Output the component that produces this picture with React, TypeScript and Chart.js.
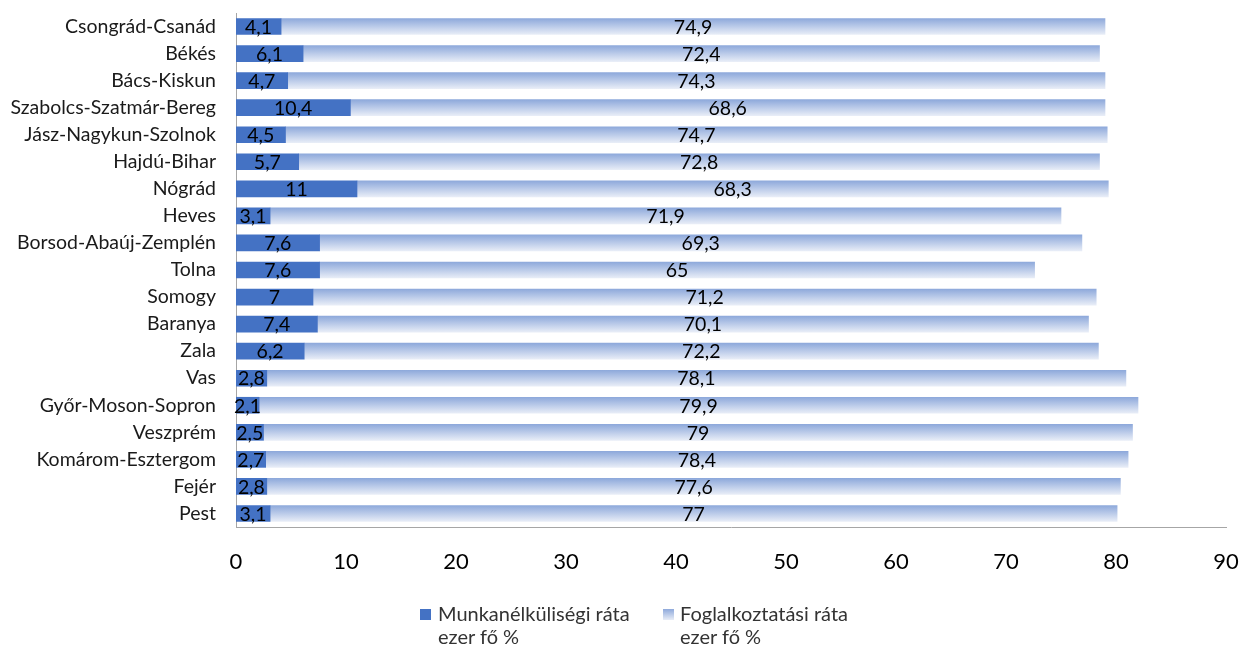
import React, { useEffect, useRef } from "react";
import { Chart, registerables } from "chart.js";

Chart.register(...registerables);

const categories = [
  "Csongrád-Csanád", "Békés", "Bács-Kiskun", "Szabolcs-Szatmár-Bereg", "Jász-Nagykun-Szolnok",
  "Hajdú-Bihar", "Nógrád", "Heves", "Borsod-Abaúj-Zemplén", "Tolna", "Somogy", "Baranya",
  "Zala", "Vas", "Győr-Moson-Sopron", "Veszprém", "Komárom-Esztergom", "Fejér", "Pest",
];
const unemployment = [4.1, 6.1, 4.7, 10.4, 4.5, 5.7, 11, 3.1, 7.6, 7.6, 7, 7.4, 6.2, 2.8, 2.1, 2.5, 2.7, 2.8, 3.1];
const employment = [74.9, 72.4, 74.3, 68.6, 74.7, 72.8, 68.3, 71.9, 69.3, 65, 71.2, 70.1, 72.2, 78.1, 79.9, 79, 78.4, 77.6, 77];
const seriesNames = ["Munkanélküliségi ráta\nezer fő %", "Foglalkoztatási ráta\nezer fő %"];
const xTicks = [0, 10, 20, 30, 40, 50, 60, 70, 80, 90];

const FONT = "Lato, 'Open Sans', sans-serif";
const DARK = "#4472C4";
const GRAD_TOP = "#8EA9DB";
const GRAD_BOTTOM = "#E8EDF7";
const BAR_H = 16;

const fmt = (v: number) => String(v).replace(".", ",");

const labelPlugin = {
  id: "segLabels",
  afterDatasetsDraw(chart: any) {
    const { ctx } = chart;
    ctx.save();
    ctx.font = `19.5px ${FONT}`;
    ctx.fillStyle = "#000";
    ctx.textAlign = "center";
    ctx.textBaseline = "middle";
    chart.data.datasets.forEach((ds: any, di: number) => {
      const meta = chart.getDatasetMeta(di);
      meta.data.forEach((bar: any, i: number) => {
        const cx = (bar.x + bar.base) / 2;
        ctx.fillText(fmt(ds.data[i]), cx, bar.y + 1);
      });
    });
    ctx.restore();
  },
};

function gradientFor(ctxArg: any) {
  const chart = ctxArg.chart;
  const { ctx, chartArea, scales } = chart;
  if (!chartArea || !scales.y) return GRAD_TOP;
  const yc = scales.y.getPixelForValue(ctxArg.dataIndex);
  const g = ctx.createLinearGradient(0, yc - BAR_H / 2, 0, yc + BAR_H / 2);
  g.addColorStop(0, GRAD_TOP);
  g.addColorStop(1, GRAD_BOTTOM);
  return g;
}

export default function App() {
  const ref = useRef<HTMLCanvasElement>(null);
  useEffect(() => {
    if (!ref.current) return;
    const chart = new Chart(ref.current, {
      type: "bar",
      data: {
        labels: categories,
        datasets: [
          { label: seriesNames[0], data: unemployment, backgroundColor: DARK, barThickness: BAR_H },
          { label: seriesNames[1], data: employment, backgroundColor: gradientFor as any, barThickness: BAR_H },
        ],
      },
      options: {
        indexAxis: "y",
        animation: false,
        responsive: false,
        maintainAspectRatio: false,
        layout: { padding: { top: 13, right: 15, left: 0, bottom: 0 } },
        plugins: { legend: { display: false }, tooltip: { enabled: false } },
        scales: {
          x: {
            stacked: true,
            min: 0,
            max: 90,
            afterBuildTicks: (s: any) => { s.ticks = xTicks.map((v) => ({ value: v })); },
            afterFit: (s: any) => { s.height = 123; s.paddingLeft = 0; s.paddingRight = 0; },
            grid: { display: false, drawTicks: false },
            border: { display: true, color: "#A6A6A6", width: 1 },
            ticks: { font: { size: 22, family: FONT }, color: "#000", padding: 22 },
          },
          y: {
            stacked: true,
            afterFit: (s: any) => { s.width = 236; s.paddingTop = 0; s.paddingBottom = 0; },
            grid: { display: false, drawTicks: false },
            border: { display: true, color: "#A6A6A6", width: 1 },
            ticks: { font: { size: 19.5, family: FONT }, color: "#1a1a1a", padding: 20 },
          },
        },
      },
      plugins: [labelPlugin],
    });
    return () => chart.destroy();
  }, []);

  const legendText: React.CSSProperties = {
    fontFamily: FONT,
    fontSize: 20,
    lineHeight: "23px",
    color: "#333",
    whiteSpace: "pre",
  };

  return (
    <div style={{ position: "fixed", left: 0, top: 0, width: 1241, height: 650, background: "#fff" }}>
      <canvas ref={ref} width={1241} height={650} style={{ display: "block" }} />
      <div style={{ position: "absolute", left: 420, top: 602, display: "flex", alignItems: "flex-start" }}>
        <div style={{ width: 11, height: 11, background: DARK, marginTop: 7, marginRight: 7 }} />
        <div style={legendText}>{seriesNames[0]}</div>
      </div>
      <div style={{ position: "absolute", left: 663, top: 602, display: "flex", alignItems: "flex-start" }}>
        <div style={{ width: 11, height: 11, background: `linear-gradient(${GRAD_TOP}, ${GRAD_BOTTOM})`, marginTop: 7, marginRight: 6 }} />
        <div style={legendText}>{seriesNames[1]}</div>
      </div>
    </div>
  );
}
